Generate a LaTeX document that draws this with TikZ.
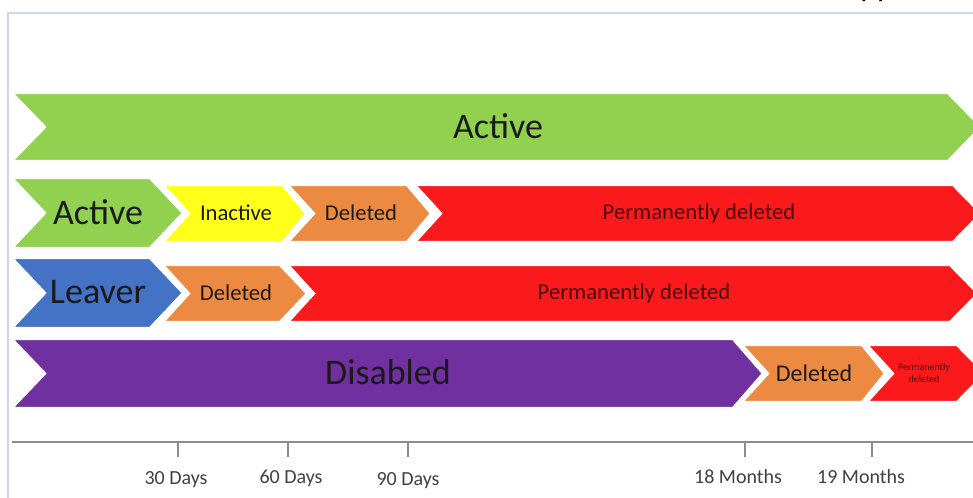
\documentclass[tikz,border=0pt]{standalone}
\usepackage{fontspec}
\setmainfont{Carlito}

\definecolor{actgreen}{HTML}{92D050}
\definecolor{inyellow}{HTML}{FFFF1A}
\definecolor{delorange}{HTML}{EC8A42}
\definecolor{permred}{HTML}{FA1A1C}
\definecolor{leavblue}{HTML}{4472C4}
\definecolor{dispurple}{HTML}{7030A0}
\definecolor{framebl}{HTML}{C9D8F0}
\definecolor{txtdark}{HTML}{1A1A1A}
\definecolor{txtred}{HTML}{4A0A0A}
\definecolor{axisgray}{HTML}{8C8C8C}
\definecolor{labgray}{HTML}{404040}

% chevron: colour, left x, right x, top y, bottom y, notch depth, point depth
\newcommand{\chev}[7]{%
  \filldraw[fill=#1,draw=white,line width=1.8pt,line join=miter]
    (#2,#4) -- (#3,#4) -- ({#3+#7},{(#4+#5)/2}) -- (#3,#5) -- (#2,#5)
    -- ({#2+#6},{(#4+#5)/2}) -- cycle;}

\begin{document}
\begin{tikzpicture}[x=0.75pt,y=-0.75pt,
  lbig/.style={inner sep=0pt,text=txtdark,font=\fontsize{27}{30}\selectfont},
  lmid/.style={inner sep=0pt,text=txtdark,font=\fontsize{17}{20}\selectfont},
  lred/.style={inner sep=0pt,text=txtred,font=\fontsize{17}{20}\selectfont},
  ltiny/.style={inner sep=0pt,text=txtred,align=center,font=\fontsize{7.5}{8.5}\selectfont},
  laxis/.style={inner sep=0pt,text=labgray,font=\fontsize{15}{18}\selectfont}]

\useasboundingbox (0,0) rectangle (973,498);
\clip (0,0) rectangle (973,498);

% frame
\draw[framebl,line width=0.9pt] (8,498) -- (8,13) -- (973,13);
\node[anchor=base west,inner sep=0pt,font=\fontsize{24}{26}\selectfont] (cut) at (860,-3) {pp};

% row 1
\chev{actgreen}{12}{948}{93}{161}{33}{33}
\node[lbig] (act) at (498,126) {Active};

% row 2
\chev{permred}{415}{953}{185}{242}{26}{28}
\chev{delorange}{288}{407}{185}{242}{26}{24}
\chev{inyellow}{163}{283}{185}{242}{26}{23}
\chev{actgreen}{12}{150}{178}{248}{33}{33}
\node[lbig] (actb) at (98,212) {Active};
\node[lmid] (inact) at (236,213) {Inactive};
\node[lmid] (delb) at (361,213) {Deleted};
\node[lred] (permb) at (699,213) {Permanently deleted};

% row 3
\chev{permred}{288}{950}{265}{322}{26}{28}
\chev{delorange}{163}{280}{265}{322}{26}{27}
\chev{leavblue}{12}{150}{258}{328}{33}{33}
\node[lbig] (leav) at (98,292) {Leaver};
\node[lmid] (delc) at (236,293) {Deleted};
\node[lred] (permc) at (634,293) {Permanently deleted};

% row 4
\chev{permred}{867}{957}{345}{402}{26}{28}
\chev{delorange}{742}{862}{345}{402}{26}{23}
\chev{dispurple}{12}{733}{339}{408}{33}{30}
\node[lbig] (dis) at (388,372) {Disabled};
\node[lmid,font=\fontsize{18}{20}\selectfont] (deld) at (814,373) {Deleted};
\node[ltiny] (permd) at (924,373) {Permanently\\deleted};

% time axis
\draw[axisgray,line width=1.1pt] (12,442) -- (973,442);
\foreach \t/\l/\lx/\ly in {178/30 Days/176/480, 288/60 Days/291/478,
    408/90 Days/408/481, 745/18 Months/738/477, 872/19 Months/861/477}{
  \draw[axisgray,line width=0.8pt] (\t,442) -- (\t,457);
  \node[laxis] (lab\t) at (\lx,\ly) {\l};
}

\end{tikzpicture}
\end{document}
